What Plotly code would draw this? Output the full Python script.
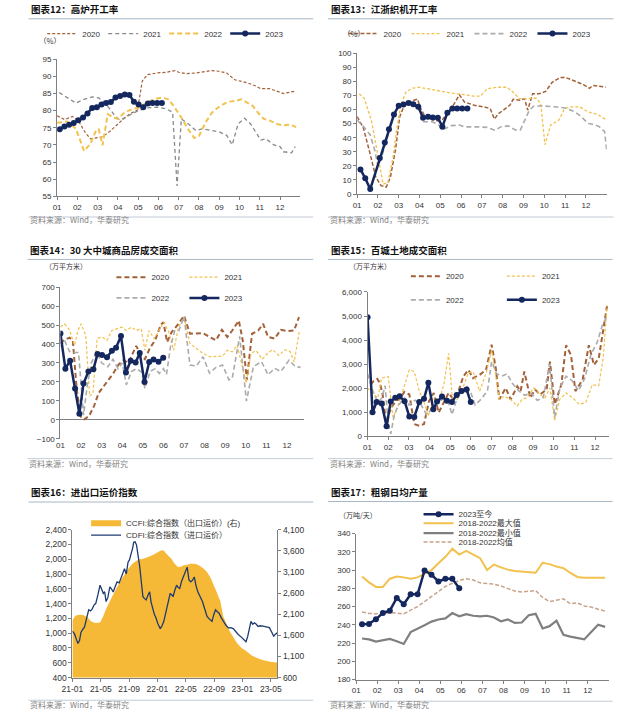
import plotly.graph_objects as go

# ---------------------------------------------------------------- data
month_labels = ["01", "02", "03", "04", "05", "06", "07", "08", "09", "10", "11", "12"]
month_pos = [0, 1, 2, 3, 4, 5, 6, 7, 8, 9, 10, 11]

# 图表12 高炉开工率 (%)  x = month position (0 = Jan 1)
bf_2020_x = [0, 0.37, 0.77, 1.09, 1.4, 1.65, 2.2, 2.6, 3.09, 3.57,
             3.97, 4.07, 4.2, 4.45, 4.93, 5.4, 5.8, 6.0, 6.37, 6.85,
             7.33, 7.65, 7.97, 8.37, 8.77, 9.09, 9.4, 9.8, 10.05, 10.5,
             10.85, 11.17, 11.5, 11.75]
bf_2020_y = [78.5, 77.4, 78.3, 76.6, 73.5, 71.8, 72.3, 73.9, 76.6, 79.0,
             80.2, 84.5, 88.6, 90.5, 91.0, 91.2, 91.7, 91.2, 90.8, 91.0,
             91.4, 91.7, 91.5, 91.0, 89.0, 88.6, 88.1, 87.2, 86.4, 86.4,
             85.7, 85.0, 85.4, 85.7]
bf_2021_x = [0.1, 0.5, 0.93, 1.33, 1.73, 2.05, 2.3, 2.6, 2.85, 3.1,
             3.5, 4.0, 4.45, 4.95, 5.4, 5.7, 5.92, 6.13, 6.5, 6.85,
             7.15, 7.65, 8.0, 8.37, 8.64, 8.93, 9.25, 9.55, 9.8, 10.05,
             10.3, 10.7, 11.0, 11.17, 11.57, 11.75]
bf_2021_y = [85.3, 83.8, 82.2, 83.3, 84.0, 83.7, 82.6, 80.5, 78.5, 77.2,
             78.5, 80.0, 80.8, 81.0, 80.5, 79.5, 58.0, 77.6, 76.0, 74.2,
             74.7, 74.2, 73.8, 72.8, 70.0, 76.1, 77.8, 76.1, 73.8, 71.4,
             71.8, 70.0, 69.5, 68.0, 67.7, 69.5]
bf_2022_x = [0, 0.5, 0.93, 1.33, 1.65, 1.89, 2.05, 2.24, 2.5, 2.77,
             3.0, 3.33, 3.73, 4.05, 4.45, 4.77, 5.17, 5.5, 5.8, 6.13,
             6.45, 6.77, 7.0, 7.33, 7.65, 8.05, 8.45, 8.77, 9.09, 9.33,
             9.65, 9.97, 10.2, 10.5, 10.85, 11.17, 11.5, 11.8]
bf_2022_y = [76.5, 76.8, 74.7, 68.2, 70.4, 73.8, 74.7, 69.9, 79.0, 78.0,
             77.6, 79.5, 80.5, 80.9, 82.4, 83.3, 83.8, 83.3, 80.9, 78.0,
             74.7, 72.0, 72.6, 76.6, 79.5, 81.4, 82.6, 82.8, 83.3, 82.4,
             81.4, 79.0, 77.6, 77.1, 76.1, 75.7, 75.9, 75.2]
bf_2023_x = [0.13, 0.36, 0.59, 0.82, 1.05, 1.28, 1.5, 1.73, 1.96, 2.19,
             2.42, 2.65, 2.88, 3.11, 3.34, 3.57, 3.79, 4.02, 4.25, 4.48,
             4.71, 4.94, 5.17]
bf_2023_y = [74.6, 75.4, 75.9, 76.4, 77.2, 78.0, 79.2, 80.8, 81.0, 81.8,
             82.2, 82.5, 83.8, 84.3, 84.7, 84.6, 82.6, 81.8, 81.0, 82.1,
             82.2, 82.2, 82.2]

# 图表13 江浙织机开工率 (%)
loom_2020_x = [0, 0.3, 0.6, 0.9, 1.15, 1.4, 1.6, 1.85, 2.05, 2.3,
               2.6, 2.9, 3.05, 3.3, 3.6, 3.9, 4.1, 4.4, 4.7, 4.92,
               5.16, 5.63, 6.1, 6.4, 6.6, 6.8, 7.03, 7.34, 7.5, 7.8,
               8.05, 8.2, 8.44, 8.75, 9.06, 9.38, 9.77, 10.0, 10.3, 10.6,
               10.9, 11.17, 11.33, 11.64, 11.95]
loom_2020_y = [55, 47, 30, 12, 6, 5, 12, 32, 55, 64.5,
               66, 67.5, 61, 54, 53, 52, 53, 58, 65, 70.5,
               65.4, 63.1, 61.9, 60.7, 53.3, 57.2, 59.6, 63.1, 67.3, 66.6,
               67.8, 59.6, 71.3, 71.3, 72.9, 79.4, 82.9, 82.9, 81.3, 79.4,
               77.6, 75.2, 77.1, 76.6, 75.9]
loom_2021_x = [0.1, 0.35, 0.7, 1.0, 1.25, 1.48, 1.72, 1.9, 2.1, 2.34,
               2.66, 2.97, 3.36, 3.75, 4.2, 4.7, 5.16, 5.6, 5.94, 6.25,
               6.7, 7.2, 7.5, 7.8, 8.2, 8.6, 8.83, 9.03, 9.3, 9.7,
               9.97, 10.3, 10.7, 11.1, 11.56, 12.0]
loom_2021_y = [71.3, 67.8, 51.4, 25.7, 7, 8.2, 25.7, 45.6, 63, 72.4,
               75.2, 75.9, 74.8, 73.6, 72.4, 71.3, 70.6, 69.6, 69.6, 74.8,
               75.9, 75.9, 72.4, 67.8, 67.8, 68.2, 64.3, 35, 49, 52.6,
               60.7, 62, 62, 58.4, 56.5, 52.6]
loom_2022_x = [0, 0.31, 0.63, 0.86, 1.0, 1.15, 1.35, 1.55, 1.77, 2.0,
               2.3, 2.6, 2.9, 3.2, 3.6, 3.9, 4.1, 4.53, 4.92, 5.16,
               5.8, 6.25, 6.64, 6.9, 7.27, 7.6, 7.85, 8.05, 8.28, 8.5,
               8.9, 9.5, 10.0, 10.47, 10.78, 11.1, 11.4, 11.64, 11.9, 12.0]
loom_2022_y = [52.6, 47.9, 42, 30.4, 20, 25, 35, 45, 56, 62,
               64, 65.5, 63, 51.4, 51.4, 49.5, 45.6, 48.6, 49, 47.7,
               47.7, 47.4, 45.3, 47.7, 48.4, 45.6, 45.6, 52.6, 59.6, 62.6,
               62.6, 62, 61.2, 58.4, 54.9, 50.2, 49.5, 47.9, 44.4, 30.4]
loom_2023_x = [0.16, 0.39, 0.63, 1.09, 1.33, 1.53, 1.77, 2.0, 2.23, 2.47,
               2.7, 2.94, 3.17, 3.41, 3.64, 3.88, 4.1, 4.34, 4.58, 4.81,
               5.05, 5.3]
loom_2023_y = [17.5, 11.2, 3.5, 25.6, 36.7, 46, 56.5, 62.8, 63.6, 64.7,
               63.8, 62, 54.2, 54.9, 54.4, 54.2, 47.9, 57.7, 60.7, 60.7,
               60.7, 60.7]

# 图表14 30大中城商品房成交面积 (万平方米)
house_2020_x = [0, 0.2, 0.44, 0.6, 0.79, 1.0, 1.15, 1.39, 1.63, 1.86,
                2.1, 2.34, 2.57, 2.81, 3.05, 3.29, 3.52, 3.68, 3.9, 4.1,
                4.35, 4.6, 4.87, 5.0, 5.18, 5.4, 5.73, 6.0, 6.29, 6.6,
                6.92, 7.24, 7.55, 7.84, 8.1, 8.34, 8.66, 8.85, 9.05, 9.3,
                9.6, 9.84, 10.08, 10.4, 10.7, 11.0, 11.34, 11.58]
house_2020_y = [402, 423, 433, 420, 160, 12, 3, 20, 73, 142,
                177, 211, 246, 290, 315, 300, 350, 390, 340, 320,
                380, 420, 500, 515, 410, 463, 506, 549, 454, 454,
                457, 437, 419, 475, 437, 471, 523, 420, 211, 454,
                471, 506, 437, 428, 475, 468, 471, 541]
house_2021_x = [0, 0.2, 0.44, 0.68, 0.85, 1.0, 1.23, 1.42, 1.58, 1.78,
                2.02, 2.26, 2.5, 2.73, 2.97, 3.2, 3.44, 3.68, 3.92, 4.1,
                4.3, 4.55, 4.79, 5.02, 5.26, 5.5, 5.73, 6.0, 6.29, 6.6,
                6.92, 7.24, 7.55, 7.87, 8.1, 8.34, 8.58, 8.8, 9.02, 9.25,
                9.5, 9.8, 10.05, 10.3, 10.6, 10.9, 11.15, 11.35, 11.6]
house_2021_y = [489, 506, 475, 393, 470, 506, 445, 125, 142, 428,
                437, 419, 471, 480, 489, 471, 489, 471, 480, 367,
                471, 428, 471, 515, 463, 367, 489, 541, 402, 376,
                350, 333, 333, 336, 367, 359, 393, 300, 195, 350,
                365, 320, 350, 370, 340, 370, 360, 305, 470]
house_2022_x = [0, 0.2, 0.44, 0.68, 0.88, 1.0, 1.12, 1.3, 1.5, 1.75,
                2.0, 2.3, 2.55, 2.8, 3.0, 3.2, 3.45, 3.7, 3.95, 4.1,
                4.35, 4.6, 4.8, 5.0, 5.15, 5.35, 5.55, 5.75, 6.0, 6.29,
                6.6, 6.92, 7.24, 7.55, 7.87, 8.18, 8.34, 8.7, 9.03, 9.37,
                9.76, 10.08, 10.4, 10.7, 11.1, 11.4, 11.66]
house_2022_y = [385, 419, 360, 355, 355, 200, 25, 180, 300, 360,
                300, 280, 320, 270, 300, 185, 255, 270, 250, 165,
                255, 270, 245, 270, 240, 390, 470, 470, 544, 289,
                284, 333, 246, 277, 289, 211, 220, 440, 99, 281,
                307, 237, 272, 255, 315, 281, 277]
house_2023_x = [0, 0.24, 0.47, 0.71, 0.92, 1.12, 1.36, 1.6, 1.8, 2.02,
                2.26, 2.5, 2.7, 2.94, 3.18, 3.41, 3.65, 3.85, 4.08, 4.31,
                4.52, 4.76, 4.99]
house_2023_y = [455, 270, 312, 165, 32, 192, 255, 267, 347, 342,
                330, 364, 380, 442, 250, 312, 302, 352, 200, 305,
                318, 306, 328]

# 图表15 百城土地成交面积 (万平方米)
land_2020_x = [0.15, 0.3, 0.47, 0.6, 0.73, 0.92, 1.05, 1.2, 1.4, 1.55,
               1.78, 2.02, 2.26, 2.5, 2.73, 2.97, 3.2, 3.44, 3.68, 3.92,
               4.15, 4.4, 4.63, 4.87, 5.1, 5.42, 5.73, 6.0, 6.2, 6.37,
               6.68, 6.92, 7.24, 7.4, 7.58, 7.87, 8.1, 8.34, 8.66, 8.82,
               9.05, 9.37, 9.6, 9.84, 10.05, 10.4, 10.7, 10.95, 11.18, 11.42,
               11.58]
land_2020_y = [2150, 2300, 2390, 2200, 1735, 369, 984, 1257, 1500, 1530,
               1844, 1735, 505, 437, 505, 1462, 1803, 984, 1393, 1803,
               1530, 1872, 2486, 2760, 2418, 2555, 2760, 3811, 2828, 1530,
               2008, 1530, 2076, 1872, 2691, 1598, 1940, 1735, 1940, 3101,
               1325, 2145, 3784, 3374, 1872, 2350, 3784, 2964, 3238, 4467,
               5423]
land_2021_x = [0, 0.28, 0.5, 0.68, 1.0, 1.23, 1.47, 1.7, 2.02, 2.26,
               2.5, 2.7, 2.94, 3.18, 3.44, 3.7, 3.92, 4.1, 4.31, 4.55,
               4.87, 5.1, 5.42, 5.73, 6.0, 6.2, 6.37, 6.6, 6.92, 7.24,
               7.47, 7.7, 8.03, 8.34, 8.58, 8.82, 9.05, 9.29, 9.6, 9.92,
               10.24, 10.55, 10.87, 11.18, 11.4, 11.58]
land_2021_y = [2008, 1735, 1600, 2418, 2486, 779, 1257, 1872, 2760, 2691,
               1872, 1500, 847, 1598, 1393, 2200, 3443, 1598, 1530, 1872,
               2623, 2691, 1872, 2623, 3579, 2500, 1530, 1667, 1530, 1257,
               1530, 1598, 2008, 1735, 1598, 2008, 642, 1530, 1803, 1598,
               1325, 1400, 2145, 2100, 3300, 5423]
land_2022_x = [0, 0.25, 0.5, 0.7, 0.85, 1.0, 1.12, 1.3, 1.5, 1.8,
               2.0, 2.3, 2.6, 2.85, 3.1, 3.4, 3.65, 3.9, 4.08, 4.3,
               4.55, 4.8, 5.0, 5.2, 5.5, 5.8, 6.0, 6.25, 6.5, 6.75,
               7.0, 7.3, 7.6, 7.9, 8.2, 8.5, 8.8, 9.05, 9.3, 9.6,
               9.9, 10.2, 10.5, 10.8, 11.1, 11.35, 11.58]
land_2022_y = [2600, 1900, 1400, 1600, 2100, 500, 100, 900, 1300, 1600,
               1300, 1500, 1300, 900, 1100, 1400, 1550, 1450, 900, 1500,
               1900, 2100, 1800, 1300, 1550, 1900, 3100, 2600, 2500, 2600,
               2200, 1900, 1700, 1800, 1500, 1600, 3000, 800, 2000, 2500,
               2300, 1900, 2400, 3400, 3900, 4600, 5000]
land_2023_x = [0, 0.24, 0.44, 0.68, 0.92, 1.12, 1.34, 1.55, 1.79, 2.02,
               2.26, 2.5, 2.73, 2.94, 3.18, 3.36, 3.6, 3.84, 4.08, 4.31,
               4.55, 4.79, 4.99]
land_2023_y = [4950, 1000, 1420, 1360, 420, 1450, 1600, 1660, 1460, 820,
               800, 1420, 1560, 2220, 1120, 1440, 1650, 1480, 1420, 1720,
               1880, 1940, 1420]

# 图表16 进出口运价指数   x = months since 2021-01
freight_tick_pos = [0, 4, 8, 12, 16, 20, 24, 28]
freight_tick_labels = ["21-01", "21-05", "21-09", "22-01", "22-05", "22-09", "23-01", "23-05"]
ccfi_m = [0, 0.4, 0.9, 1.5, 2.1, 2.6, 3.2, 3.9, 4.3, 4.8,
          5.5, 6.2, 6.9, 7.57, 8.0, 8.5, 9.0, 9.4, 9.86, 10.5,
          11.2, 11.8, 12.4, 12.76, 12.84, 12.92, 13.07, 13.5, 14.0, 14.4,
          14.9, 15.3, 15.6, 16.2, 16.7, 17.3, 17.9, 18.5, 19.0, 19.5,
          19.95, 20.3, 20.7, 20.78, 20.86, 21.3, 21.8, 22.2, 22.7, 23.2,
          23.7, 24.1, 24.38, 24.46, 24.54, 24.8, 25.3, 25.9, 26.6, 27.3,
          28.1, 28.9]
ccfi_v = [1950, 2060, 2086, 2080, 2030, 1930, 1890, 1900, 2030, 2240,
          2480, 2707, 2920, 3097, 3200, 3300, 3360, 3400, 3408, 3440,
          3485, 3540, 3602, 3610, None, 3600, 3563, 3490, 3408, 3300,
          3213, 3220, 3252, 3270, 3290, 3290, 3252, 3180, 3097, 2960,
          2786, 2650, 2474, None, 2420, 2046, 1850, 1697, 1560, 1424,
          1330, 1269, 1250, None, 1220, 1191, 1120, 1074, 1030, 997,
          970, 957]
cdfi_m = [0, 0.3, 0.55, 0.78, 1.0, 1.2, 1.45, 1.7, 2.0, 2.3,
          2.55, 2.8, 3.05, 3.3, 3.6, 3.9, 4.1, 4.36, 4.55, 4.75,
          5.0, 5.28, 5.5, 5.75, 6.0, 6.3, 6.6, 6.9, 7.1, 7.35,
          7.6, 7.85, 8.05, 8.3, 8.5, 8.65, 8.85, 9.05, 9.3, 9.5,
          9.7, 9.95, 10.15, 10.4, 10.65, 10.9, 11.1, 11.3, 11.55, 11.8,
          12.05, 12.4, 12.65, 12.9, 13.1, 13.35, 13.6, 13.8, 14.0, 14.2,
          14.45, 14.7, 14.9, 15.15, 15.4, 15.65, 15.9, 16.2, 16.45, 16.7,
          16.95, 17.2, 17.45, 17.7, 18.0, 18.35, 18.7, 19.0, 19.35, 19.7,
          19.95, 20.2, 20.45, 20.7, 21.0, 21.3, 21.65, 22.0, 22.35, 22.7,
          23.05, 23.4, 23.8, 24.2, 24.5, 24.75, 25.0, 25.2, 25.45, 25.7,
          25.95, 26.2, 26.45, 26.7, 26.95, 27.2, 27.5, 27.8, 28.1, 28.4,
          28.65, 28.9]
cdfi_v = [1027, 990, 920, 860, 900, 1010, 1050, 1080, 1200, 1316,
          1300, 1329, 1380, 1404, 1520, 1649, 1600, 1538, 1560, 1427,
          1480, 1627, 1600, 1556, 1620, 1693, 1680, 1760, 1820, 1871,
          1800, 1960, 1990, 2071, 2150, 2230, 2235, 2191, 2049, 1900,
          1716, 1493, 1470, 1449, 1510, 1560, 1420, 1337, 1260, 1204,
          1130, 1062, 1100, 1160, 1250, 1337, 1450, 1538, 1520, 1493,
          1580, 1649, 1620, 1604, 1700, 1760, 1830, 1893, 1720, 1693,
          1716, 1760, 1640, 1560, 1500, 1427, 1320, 1227, 1190, 1160,
          1250, 1316, 1290, 1271, 1210, 1160, 1110, 1071, 1075, 1062,
          1020, 982, 950, 910, 884, 960, 1080, 1160, 1120, 1140,
          1120, 1090, 1100, 1093, 1095, 1090, 1085, 1075, 1020, 960,
          985, 1004]

# 图表17 粗钢日均产量 (万吨/天), ten-day periods
steel_x = [0.28, 0.61, 0.94, 1.27, 1.6, 1.93, 2.26, 2.59, 2.92, 3.25,
           3.58, 3.91, 4.24, 4.57, 4.9, 5.23, 5.56, 5.89, 6.22, 6.55,
           6.88, 7.21, 7.54, 7.87, 8.2, 8.53, 8.86, 9.19, 9.52, 9.85,
           10.18, 10.51, 10.84, 11.17, 11.5, 11.83]
steel_2023 = [240.5, 241, 246, 253, 255.5, 269.5, 262.5, 273.5, 273.5, 299.5,
              295, 287.5, 290.5, 290.5, 280]
steel_max = [293, 286.5, 281.5, 281.5, 290.5, 293, 292, 290.5, 292, 296,
             300, 307.5, 314.5, 323.5, 317, 321, 317, 313, 300, 306,
             303, 300.5, 299, 298.6, 297.5, 297, 308, 306.5, 303.8, 302,
             297, 292.5, 291.7, 291.7, 291.7, 291.5]
steel_min = [225, 224, 221.5, 223, 224.5, 222, 219, 232, 235.5, 239.5,
             243.5, 245.8, 247, 252.8, 249.3, 251.7, 249.9, 249.2, 249.9, 248,
             243.8, 246, 242, 242.5, 250.5, 252, 236, 238.5, 244.5, 229,
             227, 225.5, 224, 232, 240, 237.7]
steel_mean = [254, 252.5, 252, 252, 253.5, 253, 252, 256, 260, 265.5,
              271, 276.5, 282, 285.5, 288.5, 290.5, 289, 286, 285.2, 284.6,
              282.5, 280, 277, 276, 277, 277.5, 270, 265.5, 267, 268.5,
              263, 264, 260.7, 259.5, 257, 255]

# ---------------------------------------------------------------- style
W, H = 640, 722
def PX(x):
    return x / W
def PY(y):
    return 1 - y / H

FONT = "Liberation Sans, Arial, Noto Sans CJK SC, sans-serif"
CJK = "Noto Sans CJK SC, Liberation Sans, sans-serif"
TXT = "#333333"
AX = "#808080"
NAVY = "#14275E"
BROWN = "#A3613A"
GOLD = "#F2C14E"
GRAY_D = "#8A8A8A"
GRAY_L = "#ABABAB"
AREA = "#F5B937"
CDFI_C = "#1F3A70"
MEAN_C = "#C9A38B"
MIN_C = "#7F7F7F"
RULE = "#A9B7C6"

fig = go.Figure()


def add_line(x, y, xa, ya, color, width, dash, name, legend, markers=False, msize=6):
    fig.add_trace(go.Scatter(
        x=x, y=y, xaxis=xa, yaxis=ya, name=name, legend=legend,
        mode="lines+markers" if markers else "lines",
        line=dict(color=color, width=width, dash=dash),
        marker=dict(size=msize, color=color, line=dict(width=0)),
        hoverinfo="skip", showlegend=True))


# 图表12
add_line(bf_2020_x, bf_2020_y, "x", "y", BROWN, 1.2, "3px,2px", "2020", "legend")
add_line(bf_2021_x, bf_2021_y, "x", "y", GRAY_D, 1.3, "4px,3px", "2021", "legend")
add_line(bf_2022_x, bf_2022_y, "x", "y", GOLD, 2.0, "5px,3px", "2022", "legend")
add_line(bf_2023_x, bf_2023_y, "x", "y", NAVY, 2.5, "solid", "2023", "legend", True, 6)

# 图表13
add_line(loom_2020_x, loom_2020_y, "x2", "y2", BROWN, 1.5, "4px,2px", "2020", "legend2")
add_line(loom_2021_x, loom_2021_y, "x2", "y2", GOLD, 1.3, "3px,2px", "2021", "legend2")
add_line(loom_2022_x, loom_2022_y, "x2", "y2", GRAY_L, 1.6, "5px,3px", "2022", "legend2")
add_line(loom_2023_x, loom_2023_y, "x2", "y2", NAVY, 2.5, "solid", "2023", "legend2", True, 6)

# 图表14
add_line(house_2020_x, house_2020_y, "x3", "y3", BROWN, 2.0, "5px,3px", "2020", "legend3")
add_line(house_2021_x, house_2021_y, "x3", "y3", GOLD, 1.2, "3px,2px", "2021", "legend3")
add_line(house_2022_x, house_2022_y, "x3", "y3", GRAY_L, 1.6, "5px,3px", "2022", "legend4")
add_line(house_2023_x, house_2023_y, "x3", "y3", NAVY, 2.5, "solid", "2023", "legend4", True, 6)

# 图表15
add_line(land_2020_x, land_2020_y, "x4", "y4", BROWN, 2.0, "5px,3px", "2020", "legend5")
add_line(land_2021_x, land_2021_y, "x4", "y4", GOLD, 1.2, "3px,2px", "2021", "legend5")
add_line(land_2022_x, land_2022_y, "x4", "y4", GRAY_L, 1.6, "5px,3px", "2022", "legend6")
add_line(land_2023_x, land_2023_y, "x4", "y4", NAVY, 2.5, "solid", "2023", "legend6", True, 6)

# 图表16
fig.add_trace(go.Scatter(x=ccfi_m, y=ccfi_v, xaxis="x5", yaxis="y5", mode="none",
                         fill="tozeroy", fillcolor=AREA, name="CCFI:综合指数（出口运价）(右)",
                         legend="legend7", hoverinfo="skip"))
add_line(cdfi_m, cdfi_v, "x5", "y15", CDFI_C, 1.3, "solid", "CDFI:综合指数（进口运价）", "legend8")

# 图表17
add_line(steel_x, steel_max, "x6", "y6", GOLD, 2.0, "solid", "2018-2022最大值", "legend10")
add_line(steel_x, steel_min, "x6", "y6", MIN_C, 2.2, "solid", "2018-2022最小值", "legend11")
add_line(steel_x, steel_mean, "x6", "y6", MEAN_C, 1.5, "4px,2px", "2018-2022均值", "legend12")
add_line(steel_x[:len(steel_2023)], steel_2023, "x6", "y6", NAVY, 2.5, "solid", "2023至今", "legend9", True, 6)


# ---------------------------------------------------------------- axes
def axis(dom, rng, anchor, fs=8, **kw):
    d = dict(domain=dom, range=rng, anchor=anchor, showgrid=False, zeroline=False,
             showline=True, linecolor=AX, linewidth=1, ticks="outside", ticklen=3,
             tickwidth=1, tickcolor=AX,
             tickfont=dict(family=FONT, size=fs, color=TXT), fixedrange=True)
    d.update(kw)
    return d


mon = dict(tickmode="array", tickvals=month_pos, ticktext=month_labels)

layout_axes = dict(
    xaxis=axis([PX(47.3), PX(296.7)], [0, 12], "y", **mon),
    yaxis=axis([PY(194), PY(55)], [55, 95], "x", dtick=5, tick0=55),
    xaxis2=axis([PX(355), PX(611)], [0, 12], "y2", **mon),
    yaxis2=axis([PY(191.7), PY(49)], [0, 100], "x2", dtick=10, tick0=0),
    xaxis3=axis([PX(50.7), PX(300)], [0, 11.8], "y3", showline=False, ticks="", **mon),
    yaxis3=axis([PY(440), PY(286)], [-100, 700], "x3", dtick=100, tick0=-100,
                zeroline=True, zerolinecolor=AX, zerolinewidth=1),
    xaxis13=axis([PX(50.7), PX(300)], [0, 11.8], "free", overlaying="x3",
                 position=PY(420.75), showline=False, showticklabels=False,
                 tickmode="array", tickvals=month_pos),
    xaxis4=axis([PX(365.7), PX(613)], [0, 11.66], "y4", **mon),
    yaxis4=axis([PY(437.3), PY(291)], [0, 6000], "x4", dtick=1000, tick0=0, tickformat=","),
    xaxis5=axis([PX(63), PX(273)], [0, 28.9], "y5", fs=8.5, tickmode="array",
                tickvals=freight_tick_pos, ticktext=freight_tick_labels),
    yaxis5=axis([PY(682), PY(532)], [600, 4100], "x5", fs=8.5, side="right",
                dtick=500, tick0=600, tickformat=","),
    yaxis15=axis([PY(682), PY(532)], [400, 2400], "x5", fs=8.5, side="left",
                 overlaying="y5", dtick=200, tick0=400, tickformat=","),
    xaxis6=axis([PX(354), PX(613)], [0, 12], "y6", **mon),
    yaxis6=axis([PY(684), PY(536)], [180, 340], "x6", dtick=20, tick0=180),
)


# ---------------------------------------------------------------- legends
def leg(start_px, y_px, ew=None):
    # start_px: where the legend symbol should begin; y_px: centre of the row
    d = dict(x=PX(start_px - 15), y=PY(y_px - 4 if ew else y_px + 2.5),
             xanchor="left", yanchor="middle",
             orientation="h", bgcolor="rgba(0,0,0,0)", borderwidth=0,
             font=dict(family=FONT, size=8, color=TXT), itemwidth=30,
             tracegroupgap=0, itemclick=False, itemdoubleclick=False)
    if ew:
        d.update(entrywidth=ew, entrywidthmode="pixels")
    return d


legends = dict(
    legend=leg(47, 33, 16),
    legend2=leg(356, 33, 18),
    legend3=leg(118, 280, 28),
    legend4=leg(118, 301, 28),
    legend5=leg(420, 279, 51),
    legend6=leg(420, 303, 51),
    legend7=leg(92, 523),
    legend8=leg(92, 535),
    legend9=leg(433, 514),
    legend10=leg(433, 523),
    legend11=leg(433, 533),
    legend12=leg(433, 542),
)

# ---------------------------------------------------------------- texts
annotations = []
shapes = []
CJK_SHIFT = 4


def text(x, y, s, size=8, color=TXT, anchor="left", font=CJK):
    annotations.append(dict(x=PX(x), y=PY(y - CJK_SHIFT), xref="paper", yref="paper", text=s,
                            showarrow=False, xanchor=anchor, yanchor="middle",
                            font=dict(family=font, size=size, color=color)))


def rule(x0, x1, y, color=RULE):
    shapes.append(dict(type="line", xref="paper", yref="paper", x0=PX(x0), x1=PX(x1),
                       y0=PY(y), y1=PY(y), line=dict(color=color, width=1)))


titles = [
    (18, 8, "图表12：高炉开工率", 14, 215, 222, 18, 310),
    (326, 8, "图表13：江浙织机开工率", 14, 215, 222, 325, 618),
    (17, 252.5, "图表14：30 大中城商品房成交面积", 258, 460, 469, 17, 310),
    (326, 252.5, "图表15：百城土地成交面积", 258, 460, 469, 325, 617),
    (18, 498, "图表16：进出口运价指数", 504, 705, 713, 18, 310),
    (326, 498, "图表17：粗钢日均产量", 503.5, 706, 713, 325, 617),
]
for tx, ty, t, uy, sy, st, lx0, lx1 in titles:
    text(tx, ty, "<b>" + t + "</b>", size=9.5, color="#111111")
    rule(lx0, lx1, uy)
    rule(lx0, lx1, sy, color="#C3CCD6")
    text(tx - 1, st, "资料来源：Wind，华泰研究", size=8, color="#7F7F7F")

text(40, 39.5, "（%）", size=7.5, anchor="center")
text(352, 33, "（%）", size=7.5, anchor="center")
text(56, 269, "（万平方米）", size=7, anchor="center")
text(368, 269, "（万平方米）", size=7, anchor="center")
text(356, 521, "（万吨/天）", size=7, anchor="center")

fig.update_layout(
    width=W, height=H, margin=dict(l=0, r=0, t=0, b=0),
    paper_bgcolor="white", plot_bgcolor="white", showlegend=True,
    annotations=annotations, shapes=shapes,
    **layout_axes, **legends,
)

fig.write_html("out.html", config={"displayModeBar": False},
               post_script="document.body.style.margin='0px';document.body.style.overflow='hidden';")
